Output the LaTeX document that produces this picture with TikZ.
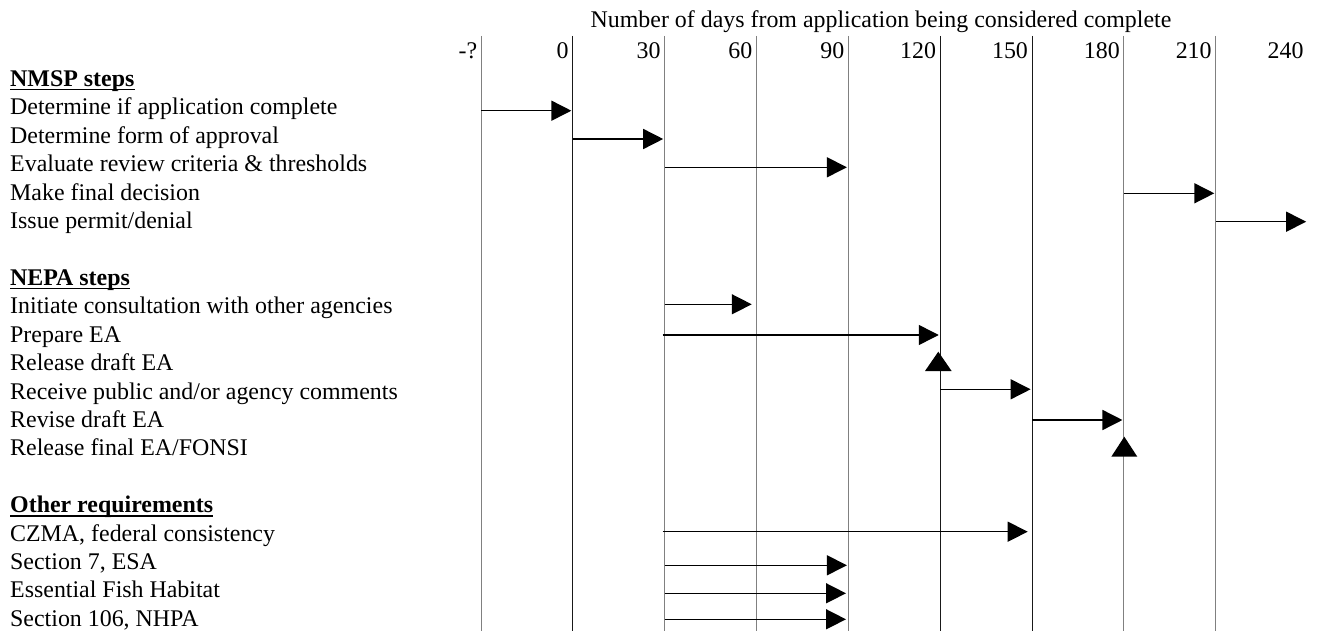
\documentclass[tikz,border=0pt]{standalone}
\usepackage{fontspec}
\setmainfont{Liberation Serif}
\usetikzlibrary{arrows.meta,calc}
\begin{document}
\begin{tikzpicture}[x=1pt,y=-1pt,
  txt/.style={inner sep=0pt, font=\fontsize{23.9}{28.4}\selectfont},
  lbl/.style={txt, anchor=base west},
  hdr/.style={lbl, font=\fontsize{23.9}{28.4}\selectfont\bfseries},
  num/.style={txt, anchor=base east},
  uline/.style={draw=black, line width=1.4pt},
  gridg/.style={draw=black!50, line width=1pt},
  gridk/.style={draw=black!90, line width=1pt},
  arr/.style={draw=black, line width=1.5pt, shorten >=1.5pt,
    -{Triangle[length=20pt,width=20pt]}},
  marker/.style={fill=black}
]
\useasboundingbox (0,0) rectangle (1320,631);
% grid tops
\coordinate (gm)   at (481,36);
\coordinate (g0)   at (572.85,36);
\coordinate (g30)  at (664.7,36);
\coordinate (g60)  at (756.55,36);
\coordinate (g90)  at (848.4,36);
\coordinate (g120) at (940.25,36);
\coordinate (g150) at (1032.1,36);
\coordinate (g180) at (1123.95,36);
\coordinate (g210) at (1215.8,36);
\coordinate (g240) at (1307.65,36);
\coordinate (bot)  at (0,631);
% title and numbers
\node[txt, anchor=base] (title) at (881,28) {Number of days from application being considered complete};
\node[num] (nm)   at ($(gm)+(-3.5,23)$) {-?};
\foreach \n in {0,30,60,90,120,150,180,210,240}{
  \node[num] (n\n) at ($(g\n)+(-4,23)$) {\n};
}
% grid lines
\foreach \g in {gm,g30,g60,g90,g180,g210}{ \draw[gridg] (\g) -- (\g |- bot); }
\foreach \g in {g0,g120,g150}{ \draw[gridk] (\g) -- (\g |- bot); }
% left labels (baseline = 86.6 + 28.4 i)
\node[hdr] (h1) at (10,86.6)  {NMSP steps};
\node[lbl] (t1) at (10,115.0) {Determine if application complete};
\node[lbl] (t2) at (10,143.4) {Determine form of approval};
\node[lbl] (t3) at (10,171.8) {Evaluate review criteria \& thresholds};
\node[lbl] (t4) at (10,200.2) {Make final decision};
\node[lbl] (t5) at (10,228.6) {Issue permit/denial};
\node[hdr] (h2) at (10,285.4) {NEPA steps};
\node[lbl] (t6) at (10,313.8) {Initiate consultation with other agencies};
\node[lbl] (t7) at (10,342.2) {Prepare EA};
\node[lbl] (t8) at (10,370.6) {Release draft EA};
\node[lbl] (t9) at (10,399.0) {Receive public and/or agency comments};
\node[lbl] (t10) at (10,427.4) {Revise draft EA};
\node[lbl] (t11) at (10,455.8) {Release final EA/FONSI};
\node[hdr] (h3) at (10,512.6) {Other requirements};
\node[lbl] (t12) at (10,541.0) {CZMA, federal consistency};
\node[lbl] (t13) at (10,569.4) {Section 7, ESA};
\node[lbl] (t14) at (10,597.8) {Essential Fish Habitat};
\node[lbl] (t15) at (10,626.2) {Section 106, NHPA};
% header underlines
\foreach \h in {h1,h2,h3}{
  \draw[uline] ([yshift=-3.2pt]\h.base west) -- ([yshift=-3.2pt]\h.base east);
}
% arrow rows
\coordinate (r1) at (0,110.7);
\coordinate (r2) at (0,139.0);
\coordinate (r3) at (0,167.3);
\coordinate (r4) at (0,193.3);
\coordinate (r5) at (0,221.7);
\coordinate (r6) at (0,304.3);
\coordinate (r7) at (0,335.0);
\coordinate (r9) at (0,389.3);
\coordinate (r10) at (0,420.0);
\coordinate (r12) at (0,531.7);
\coordinate (r13) at (0,565.3);
\coordinate (r14) at (0,593.3);
\coordinate (r15) at (0,619.3);
\draw[arr] (gm |- r1) -- (g0 |- r1);
\draw[arr] (g0 |- r2) -- (g30 |- r2);
\draw[arr] (g30 |- r3) -- (g90 |- r3);
\draw[arr] (g180 |- r4) -- (g210 |- r4);
\draw[arr] (g210 |- r5) -- (g240 |- r5);
\draw[arr, shorten >=4.8pt] (g30 |- r6) -- (g60 |- r6);
\draw[arr, shorten <=-2pt] (g30 |- r7) -- (g120 |- r7);
\draw[arr] (g120 |- r9) -- (g150 |- r9);
\draw[arr] (g150 |- r10) -- (g180 |- r10);
\draw[arr, shorten <=-2pt, shorten >=4.4pt] (g30 |- r12) -- (g150 |- r12);
\draw[arr] (g30 |- r13) -- (g90 |- r13);
\draw[arr, shorten >=2.4pt] (g30 |- r14) -- (g90 |- r14);
\draw[arr, shorten >=2.4pt] (g30 |- r15) -- (g90 |- r15);
% release markers
\coordinate (m1) at (938.3,351.7);
\coordinate (m2) at (1124.3,436.7);
\fill[marker] (m1) -- ++(-13.3,19.3) -- ++(26.6,0) -- cycle;
\fill[marker] (m2) -- ++(-13,20) -- ++(26,0) -- cycle;
\end{tikzpicture}
\end{document}
